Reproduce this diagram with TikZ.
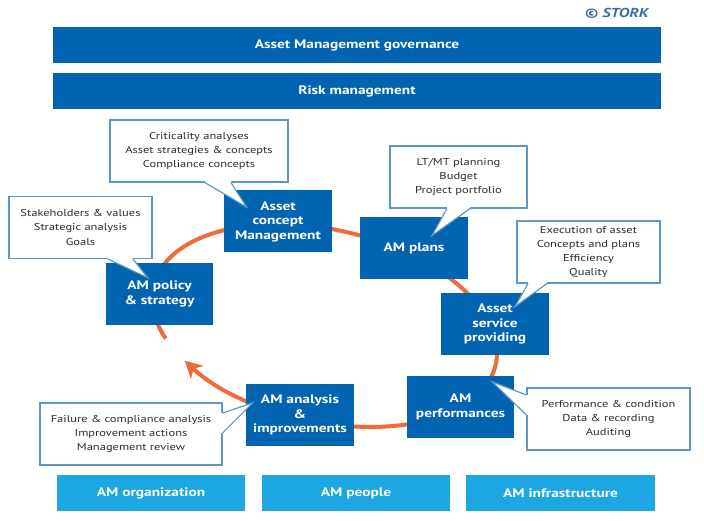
\documentclass[tikz,border=0pt]{standalone}
\usepackage{fontspec}
\setmainfont{PT Sans}[FakeStretch=1.25]
\usetikzlibrary{arrows.meta,calc}
\definecolor{amblue}{RGB}{0,100,176}
\definecolor{amcyan}{RGB}{28,166,226}
\definecolor{amorange}{RGB}{240,106,58}
\definecolor{amframe}{RGB}{95,150,196}
\definecolor{amstork}{RGB}{56,108,168}
\definecolor{amtext}{RGB}{45,45,45}

\begin{document}
\begin{tikzpicture}[x=1pt,y=1pt]

	\tikzset{
		bar/.style={fill=amblue, text=white, inner sep=0pt,
			minimum width=608pt, minimum height=36pt,
			font=\bfseries\fontsize{12.3}{14.5}\selectfont},
		amstep/.style={fill=amblue, text=white, align=center, inner sep=1pt,
			minimum width=#1, minimum height=62pt,
			font=\bfseries\fontsize{12.3}{14.5}\selectfont},
		amstep/.default=107pt,
		note/.style={draw=amframe, line width=1.2pt, fill=white, text=amtext,
			align=center, inner sep=1pt, minimum width=#1, minimum height=62pt,
			font=\fontsize{10}{14.3}\selectfont},
		base/.style={fill=amcyan, text=white, inner sep=0pt,
			minimum width=188pt, minimum height=36pt,
			font=\bfseries\fontsize{12.3}{14.5}\selectfont},
		ring/.style={draw=amorange, line width=4pt,
			-{Stealth[length=17pt, width=18pt, inset=5pt]}},
		tail/.style={draw=amframe, line width=1.2pt}
	}

	\useasboundingbox (0,0) rectangle (704,520);

	% cycle behind the steps
	\begin{scope}[shift={(324.5,194.5)}, rotate=-12.9]
		\draw[ring] (210.2:175.6 and 96) arc[start angle=210.2, end angle=-137, x radius=175.6, y radius=96];
	\end{scope}

	\node[anchor=east, text=amstork, font=\bfseries\itshape\fontsize{13}{14}\selectfont] (copy) at (652,507) {© STORK};

	\node[bar] (gov) at (357,475) {Asset Management governance};
	\node[bar] (risk) at (357,429) {Risk management};

	% steps
	\node[amstep] (policy) at (159.5,226) {AM policy\\\& strategy};
	\node[amstep=108pt] (concept) at (278,298.5) {Asset\\concept\\Management};
	\node[amstep=108pt] (plans) at (414,272) {AM plans};
	\node[amstep=108pt] (service) at (495,196) {Asset\\service\\providing};
	\node[amstep] (perform) at (460.5,113) {AM\\performances};
	\node[amstep=108pt] (analysis) at (300,105) {AM analysis\\\&\\improvements};

	% notes
	\node[note=178pt] (crit) at (199,369) {Criticality analyses\\Asset strategies \& concepts\\Compliance concepts};
	\node[note=143pt] (stake) at (80.5,292.5) {Stakeholders \& values\\Strategic analysis\\Goals};
	\node[note=137pt] (ltmt) at (458.5,343) {LT/MT planning\\Budget\\Project portfolio};
	\node[note=143pt] (exec) at (588.5,268) {Execution of asset\\Concepts and plans\\Efficiency\\Quality};
	\node[note=163pt] (perfnote) at (608.5,101) {Performance \& condition\\Data \& recording\\Auditing};
	\node[note=182pt] (fail) at (131,86) {Failure \& compliance analysis\\Improvement actions\\Management review};

	% pointers of the notes
	\coordinate (crit-a) at ($(crit.south)+(6,0)$);
	\coordinate (crit-b) at ($(crit.south)+(32,0)$);
	\coordinate (crit-t) at ($(concept.north west)+(23,-17)$);
	\coordinate (stake-a) at ($(stake.south)+(27.5,0)$);
	\coordinate (stake-b) at ($(stake.south)+(52.5,0)$);
	\coordinate (stake-t) at ($(policy.north west)+(42,-15)$);
	\coordinate (ltmt-a) at ($(ltmt.south)+(-11.5,0)$);
	\coordinate (ltmt-b) at ($(ltmt.south)+(11.5,0)$);
	\coordinate (ltmt-t) at ($(plans.north west)+(72,-19)$);
	\coordinate (exec-a) at ($(exec.south)+(-60.5,0)$);
	\coordinate (exec-b) at ($(exec.south)+(-41.5,0)$);
	\coordinate (exec-t) at ($(service.north west)+(74,-14)$);
	\coordinate (perfnote-a) at ($(perfnote.west)+(0,24)$);
	\coordinate (perfnote-b) at ($(perfnote.west)+(0,4)$);
	\coordinate (perfnote-t) at ($(perform.north east)+(-22,-6)$);
	\coordinate (fail-a) at ($(fail.east)+(0,21)$);
	\coordinate (fail-b) at ($(fail.east)+(0,1)$);
	\coordinate (fail-t) at ($(analysis.north west)+(7,-19)$);

	\foreach \n in {crit,stake,ltmt,exec,perfnote,fail} {
		\fill[white] (\n-a) -- (\n-t) -- (\n-b) -- cycle;
		\draw[white, line width=2.6pt] (\n-a) -- (\n-b);
		\draw[tail] (\n-a) -- (\n-t) -- (\n-b);
	}

	% foundations
	\node[base] (org) at (151,27) {AM organization};
	\node[base] (people) at (356,27) {AM people};
	\node[base, minimum width=189pt] (infra) at (560.5,27) {AM infrastructure};

\end{tikzpicture}
\end{document}
